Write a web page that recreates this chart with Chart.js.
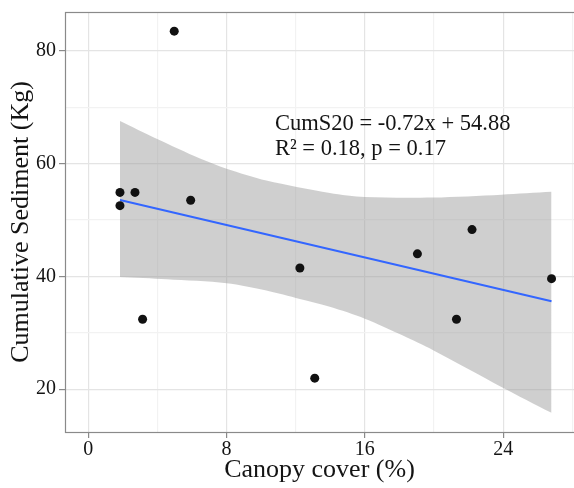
<!DOCTYPE html>
<html>
<head>
<meta charset="utf-8">
<script src="https://cdn.jsdelivr.net/npm/chart.js@4.4.1/dist/chart.umd.min.js"></script>
<style>
  html, body { margin: 0; padding: 0; background: #fff; overflow: hidden; }
  #wrap { width: 574px; height: 488px; }
</style>
</head>
<body>
<div id="wrap"><canvas id="myChart"></canvas></div>
<script>
// observed points
const canopyCover = [1.83, 1.83, 2.7, 3.14, 4.97, 5.92, 12.24, 13.1, 19.04, 21.3, 22.2, 26.8];
const sediment = [54.9, 52.55, 54.9, 32.4, 83.5, 53.5, 41.5, 21.95, 44.0, 32.4, 48.3, 39.6];

// fitted line (ends)
const fitX = [1.83, 26.8];
const fitY = [53.56, 35.6];

// confidence band edges
const bandUpperX = [1.83, 3.95, 6.46, 8.0, 10.3, 13.97, 16.0, 19.95, 23.9, 26.8];
const bandUpper = [67.55, 64.4, 60.9, 59.1, 57.0, 54.8, 54.1, 54.0, 54.5, 55.0];
const bandLowerX = [1.83, 4.53, 8.0, 10.3, 12.24, 13.97, 16.0, 18.2, 19.95, 23.9, 26.8];
const bandLower = [39.9, 39.5, 38.8, 37.5, 36.0, 34.6, 32.5, 29.5, 26.9, 20.4, 15.8];

// ticks
const xMajorTicks = [0, 8, 16, 24];
const xMinorTicks = [4, 12, 20, 28];
const yMajorTicks = [20, 40, 60, 80];
const yMinorTicks = [30, 50, 70];

const equationLines = ['CumS20 = -0.72x + 54.88', 'R\u00B2 = 0.18, p = 0.17'];

const toPoints = (xs, ys) => xs.map((v, i) => ({ x: v, y: ys[i] }));
const serif = '"Liberation Serif", "Times New Roman", serif';
const textColor = '#141414';

// panel frame; the right side runs off the picture like the original
const panelBorder = {
  id: 'panelBorder',
  afterDatasetsDraw(chart) {
    const { ctx, chartArea: a } = chart;
    ctx.save();
    ctx.strokeStyle = '#8a8a8a';
    ctx.lineWidth = 1.2;
    ctx.strokeRect(a.left + 0.5, a.top + 0.5, a.right - a.left + 4, a.bottom - a.top);
    ctx.restore();
  },
};

const equationLabel = {
  id: 'equationLabel',
  afterDatasetsDraw(chart) {
    const { ctx, scales: { x, y } } = chart;
    ctx.save();
    ctx.font = '22.5px ' + serif;
    ctx.fillStyle = textColor;
    ctx.textBaseline = 'alphabetic';
    const px = x.getPixelForValue(10.8);
    const py = y.getPixelForValue(65.9);
    equationLines.forEach((t, i) => ctx.fillText(t, px, py + i * 25));
    ctx.restore();
  },
};

const isMajor = (list, v) => list.includes(v);

new Chart(document.getElementById('myChart'), {
  type: 'scatter',
  data: {
    datasets: [
      {
        label: 'Sediment',
        data: toPoints(canopyCover, sediment),
        backgroundColor: '#111111',
        borderWidth: 0,
        pointRadius: 4.5,
        order: 0,
      },
      {
        label: 'Fit',
        data: toPoints(fitX, fitY),
        showLine: true,
        borderColor: '#3366ff',
        borderWidth: 2,
        pointRadius: 0,
        order: 1,
      },
      {
        label: 'Upper',
        data: toPoints(bandUpperX, bandUpper),
        showLine: true,
        borderWidth: 0,
        borderColor: 'rgba(0,0,0,0)',
        pointRadius: 0,
        tension: 0.3,
        fill: '+1',
        backgroundColor: 'rgba(153,153,153,0.47)',
        order: 2,
      },
      {
        label: 'Lower',
        data: toPoints(bandLowerX, bandLower),
        showLine: true,
        borderWidth: 0,
        borderColor: 'rgba(0,0,0,0)',
        pointRadius: 0,
        tension: 0.3,
        order: 3,
      },
    ],
  },
  options: {
    responsive: true,
    maintainAspectRatio: false,
    animation: false,
    layout: { autoPadding: false, padding: { top: 12, left: 0, right: 0, bottom: 0 } },
    plugins: {
      legend: { display: false },
      tooltip: { enabled: false },
    },
    scales: {
      x: {
        type: 'linear',
        min: -1.35,
        max: 28.1,
        afterBuildTicks: (s) => {
          s.ticks = [...xMajorTicks, ...xMinorTicks].sort((a, b) => a - b).map((v) => ({ value: v }));
        },
        afterFit: (s) => {
          s.height = 56;
          s.paddingLeft = 0;
          s.paddingRight = 0;
        },
        border: { display: false },
        grid: {
          color: (c) => (isMajor(xMajorTicks, c.tick && c.tick.value) ? '#e4e4e4' : '#f2f2f2'),
          lineWidth: 1.2,
          tickLength: 6,
          tickColor: (c) => (isMajor(xMajorTicks, c.tick && c.tick.value) ? '#8a8a8a' : 'rgba(0,0,0,0)'),
          tickWidth: 1.2,
        },
        ticks: {
          autoSkip: false,
          maxRotation: 0,
          padding: 0,
          color: textColor,
          font: { family: serif, size: 20 },
          callback: (v) => (isMajor(xMajorTicks, v) ? String(v) : ''),
        },
        title: {
          display: true,
          text: 'Canopy cover (%)',
          color: textColor,
          font: { family: serif, size: 26, lineHeight: 1.2 },
          padding: { top: 0, bottom: 2 },
        },
      },
      y: {
        type: 'linear',
        min: 12.4,
        max: 86.9,
        afterBuildTicks: (s) => {
          s.ticks = [...yMajorTicks, ...yMinorTicks].sort((a, b) => a - b).map((v) => ({ value: v }));
        },
        afterFit: (s) => {
          s.width = 65;
          s.paddingTop = 0;
          s.paddingBottom = 0;
        },
        border: { display: false },
        grid: {
          color: (c) => (isMajor(yMajorTicks, c.tick && c.tick.value) ? '#e4e4e4' : '#f2f2f2'),
          lineWidth: 1.2,
          tickLength: 6,
          tickColor: (c) => (isMajor(yMajorTicks, c.tick && c.tick.value) ? '#8a8a8a' : 'rgba(0,0,0,0)'),
          tickWidth: 1.2,
        },
        ticks: {
          autoSkip: false,
          padding: 3,
          color: textColor,
          font: { family: serif, size: 20 },
          callback: (v) => (isMajor(yMajorTicks, v) ? String(v) : ''),
        },
        title: {
          display: true,
          text: 'Cumulative Sediment (Kg)',
          color: textColor,
          font: { family: serif, size: 26, lineHeight: 1.2 },
          padding: { top: 6, bottom: 0 },
        },
      },
    },
  },
  plugins: [panelBorder, equationLabel],
});
</script>
</body>
</html>
